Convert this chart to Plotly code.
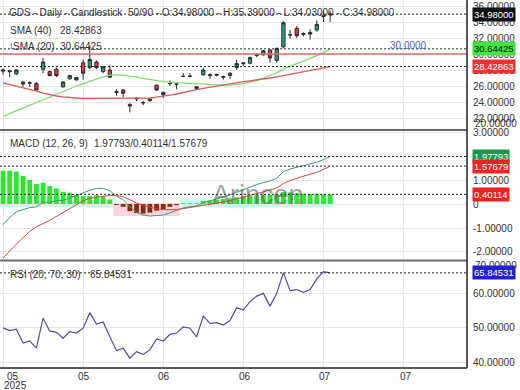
import plotly.graph_objects as go

# ---------------- data ----------------
bars = list(range(50))
opens = [27.85, 27.9, 27.5, 26.5, 26.35, 26.3, 28.1, 27.8, 28.1, 25.9,
         26.9, 26.75, 28.9, 28.3, 29.0, 27.8, 28.0, 25.3, 25.5, 23.5,
         24.5, 23.95, 24.2, 26.1, 24.9, 26.3, 26.25, 27.2, 27.25, 25.9,
         27.4, 27.3, 27.35, 27.1, 27.3, 28.3, 28.9, 28.85, 29.9, 29.9,
         30.5, 29.2, 30.9, 32.4, 33.2, 32.55, 32.7, 33.0, 34.7, 34.98]
highs = [28.2, 28.0, 28.1, 26.6, 26.6, 26.5, 29.5, 27.9, 28.3, 26.6,
         27.4, 27.1, 29.3, 31.1, 29.2, 28.5, 28.6, 25.6, 25.6, 23.9,
         24.55, 24.1, 24.4, 26.2, 25.3, 26.7, 26.3, 27.6, 27.6, 26.0,
         28.3, 27.6, 27.5, 27.3, 27.7, 29.3, 29.0, 29.7, 30.1, 30.5,
         30.6, 30.8, 34.1, 33.0, 33.5, 32.7, 33.1, 34.2, 35.4, 35.39]
lows = [27.4, 27.1, 27.4, 25.9, 25.9, 25.4, 27.6, 27.2, 27.1, 25.8,
        26.8, 26.7, 26.8, 28.1, 28.1, 27.6, 27.0, 24.8, 24.6, 22.7,
        24.1, 23.6, 24.0, 25.4, 24.5, 26.0, 25.6, 27.1, 27.1, 25.6,
        27.3, 26.9, 27.2, 26.8, 26.9, 28.0, 28.5, 28.7, 29.6, 29.8,
        28.9, 28.9, 30.7, 31.9, 32.0, 32.2, 31.8, 32.8, 34.0, 34.03]
closes = [28.0, 27.8, 28.0, 26.25, 26.4, 25.5, 29.0, 27.3, 27.3, 26.5,
          27.3, 27.05, 27.6, 29.3, 28.3, 28.4, 27.1, 25.2, 25.1, 23.65,
          24.4, 23.9, 24.35, 25.5, 25.2, 26.35, 26.25, 27.2, 27.2, 25.7,
          28.0, 27.4, 27.45, 27.15, 27.6, 28.8, 28.8, 29.55, 29.85, 30.4,
          29.5, 30.7, 33.9, 32.4, 32.3, 32.45, 32.5, 33.7, 34.75, 34.98]
sma20 = [22.2, 22.55, 22.9, 23.25, 23.6, 23.95, 24.3, 24.7, 25.0, 25.35,
         25.7, 26.0, 26.3, 26.6, 26.9, 27.15, 27.35, 27.4, 27.35, 27.25,
         27.1, 26.95, 26.8, 26.65, 26.55, 26.45, 26.4, 26.35, 26.3, 26.25,
         26.2, 26.15, 26.1, 26.1, 26.1, 26.2, 26.3, 26.5, 26.7, 27.0,
         27.3, 27.65, 28.1, 28.5, 28.8, 29.1, 29.45, 29.8, 30.15, 30.64425]
sma40 = [26.4, 26.2, 26.0, 25.8, 25.6, 25.35, 25.1, 24.9, 24.75, 24.65,
         24.55, 24.5, 24.45, 24.45, 24.45, 24.5, 24.5, 24.5, 24.5, 24.5,
         24.5, 24.5, 24.5, 24.6, 24.7, 24.85, 25.0, 25.2, 25.4, 25.55,
         25.7, 25.85, 26.0, 26.15, 26.3, 26.45, 26.55, 26.65, 26.75, 26.9,
         27.0, 27.15, 27.3, 27.45, 27.6, 27.75, 27.9, 28.05, 28.25, 28.42863]
macd = [-0.86, -0.56, -0.32, -0.23, -0.15, -0.12, 0.07, 0.07, 0.13, 0.15,
        0.25, 0.33, 0.46, 0.57, 0.65, 0.65, 0.55, 0.32, 0.18, -0.12,
        -0.34, -0.46, -0.50, -0.48, -0.46, -0.37, -0.28, -0.16, -0.12, -0.08,
        0.05, 0.12, 0.20, 0.29, 0.38, 0.49, 0.59, 0.70, 0.81, 0.89,
        0.96, 1.07, 1.35, 1.46, 1.53, 1.59, 1.66, 1.74, 1.85, 1.97793]
signal = [-2.25, -1.95, -1.67, -1.40, -1.15, -0.95, -0.82, -0.68, -0.52, -0.36,
          -0.22, -0.05, 0.13, 0.24, 0.28, 0.32, 0.36, 0.36, 0.30, 0.18,
          0.04, -0.06, -0.14, -0.20, -0.24, -0.25, -0.23, -0.19, -0.15, -0.11,
          -0.07, -0.03, 0.02, 0.08, 0.14, 0.21, 0.28, 0.36, 0.44, 0.51,
          0.58, 0.67, 0.85, 0.98, 1.08, 1.16, 1.24, 1.32, 1.44, 1.57679]
hist = [1.39, 1.39, 1.35, 1.17, 1.00, 0.83, 0.89, 0.75, 0.65, 0.51,
        0.47, 0.38, 0.33, 0.33, 0.37, 0.33, 0.19, -0.04, -0.12, -0.30,
        -0.38, -0.40, -0.36, -0.28, -0.22, -0.12, -0.05, 0.03, 0.03, 0.03,
        0.12, 0.15, 0.18, 0.21, 0.24, 0.28, 0.31, 0.34, 0.37, 0.38,
        0.38, 0.40, 0.50, 0.48, 0.45, 0.43, 0.42, 0.42, 0.41, 0.40114]
rsi = [49.9, 49.1, 49.5, 45.5, 46.1, 44.0, 52.7, 49.0, 48.6, 46.9,
       48.8, 48.4, 49.8, 54.3, 51.0, 51.6, 47.3, 43.3, 44.0, 41.1,
       43.0, 42.2, 43.5, 46.7, 46.1, 48.0, 48.4, 50.2, 49.8, 47.3,
       53.3, 51.2, 51.4, 50.7, 52.0, 55.7, 55.1, 57.5, 59.1, 59.9,
       56.2, 59.9, 65.9, 60.7, 61.0, 60.2, 61.0, 64.1, 66.2, 65.84531]

price_ticks = [22, 24, 26, 28, 30, 32, 34, 36]
macd_ticks = [-2, -1, 0, 1, 2, 3]
rsi_ticks = [40, 50, 60, 70]
x_tickvals = [0, 12, 24, 36, 48, 60]
x_ticktext = ["05", "05", "06", "06", "07", "07"]
year_label = "2025"
level_line = 30.0

# ---------------- geometry helpers ----------------
W, H = 520, 390
PW, PH = 467, 368  # plot area in pixels (left/top = 0)
def px(x):
    return x / PW
def py(y):
    return (PH - y) / PH

FONT = "Liberation Sans, Arial, sans-serif"
GRID = "#e6e6e6"

fig = go.Figure()

# price panel
fig.add_trace(go.Candlestick(
    x=bars, open=opens, high=highs, low=lows, close=closes,
    increasing=dict(line=dict(color="#2a2a2a", width=1), fillcolor="#27a27f"),
    decreasing=dict(line=dict(color="#2a2a2a", width=1), fillcolor="#e23a4e"),
    whiskerwidth=0, xaxis="x", yaxis="y", hoverinfo="skip", showlegend=False))
fig.add_trace(go.Scatter(x=bars, y=sma20, mode="lines", xaxis="x", yaxis="y",
                         line=dict(color="#80dd6c", width=1.3), hoverinfo="skip"))
fig.add_trace(go.Scatter(x=bars, y=sma40, mode="lines", xaxis="x", yaxis="y",
                         line=dict(color="#dc5a5a", width=1.3), hoverinfo="skip"))

# macd panel
bar_colors = ["#30e630" if v >= 0 else "#8c2c0c" for v in hist]
fig.add_trace(go.Bar(x=bars, y=hist, width=0.72, marker=dict(color=bar_colors, line=dict(width=0)),
                     xaxis="x", yaxis="y2", hoverinfo="skip"))
fig.add_trace(go.Scatter(x=bars, y=macd, mode="lines", xaxis="x", yaxis="y2",
                         line=dict(color="#3f9a70", width=1), hoverinfo="skip"))
fig.add_trace(go.Scatter(x=bars, y=signal, mode="lines", xaxis="x", yaxis="y2",
                         line=dict(color="#cc4a44", width=1), hoverinfo="skip"))

# rsi panel
fig.add_trace(go.Scatter(x=bars, y=rsi, mode="lines", xaxis="x", yaxis="y3",
                         line=dict(color="#4e4e9c", width=1.2), hoverinfo="skip"))

def fmt(v):
    return f"{v:.5f}"

yaxis_common = dict(side="right", anchor="x", showgrid=True, gridcolor=GRID, zeroline=False,
                    ticks="", showline=False, automargin=False, ticklabelstandoff=5,
                    tickfont=dict(size=10, color="#333", family=FONT), fixedrange=True)

fig.update_layout(
    width=W, height=H, margin=dict(l=0, r=W - PW, t=0, b=H - PH, autoexpand=False),
    paper_bgcolor="white", plot_bgcolor="white", showlegend=False,
    font=dict(family=FONT, size=10, color="#333"),
    xaxis=dict(domain=[0, 1], range=[-0.45, 69.5], anchor="y3", automargin=False,
               tickvals=x_tickvals, showticklabels=False,
               showgrid=True, gridcolor=GRID, zeroline=False, showline=False, ticks="",
               rangeslider=dict(visible=False), fixedrange=True),
    yaxis=dict(domain=[py(129), 1], range=[20.625, 36.75],
               tickvals=price_ticks, ticktext=[fmt(v) for v in price_ticks], **yaxis_common),
    yaxis2=dict(domain=[py(259), py(131)], range=[-2.292, 3.042],
                tickvals=macd_ticks, ticktext=["0" if v == 0 else fmt(v) for v in macd_ticks],
                **yaxis_common),
    yaxis3=dict(domain=[0, py(262)], range=[38.26, 68.99],
                tickvals=rsi_ticks, ticktext=[fmt(v) for v in rsi_ticks], **yaxis_common),
)

shapes = []
# histogram background bands
shapes.append(dict(type="rect", xref="x", yref="y2", x0=-0.5, x1=16.5, y0=-0.13, y1=0.2,
                   fillcolor="#c2fff4", line=dict(width=0), layer="below"))
shapes.append(dict(type="rect", xref="x", yref="y2", x0=16.5, x1=26.5, y0=-0.5, y1=0.04,
                   fillcolor="#ffd4e2", line=dict(width=0), layer="below"))
shapes.append(dict(type="rect", xref="x", yref="y2", x0=26.5, x1=49.5, y0=-0.13, y1=0.2,
                   fillcolor="#c2fff4", line=dict(width=0), layer="below"))
# horizontal level line
shapes.append(dict(type="line", xref="paper", yref="y", x0=0, x1=1, y0=level_line, y1=level_line,
                   line=dict(color="#e06a6a", width=1.5)))
# dashed value lines
for ax, v in [("y", closes[-1]), ("y", sma20[-1]), ("y", sma40[-1]),
              ("y2", macd[-1]), ("y2", signal[-1]), ("y2", hist[-1]), ("y3", rsi[-1])]:
    shapes.append(dict(type="line", xref="paper", yref=ax, x0=0, x1=1, y0=v, y1=v,
                       line=dict(color="#222", width=1, dash="2px,2px")))
# panel separators and borders
for yy in (130, 260.5):
    shapes.append(dict(type="line", xref="paper", yref="paper", x0=0, x1=1, y0=py(yy), y1=py(yy),
                       line=dict(color="#6a6a6a", width=2)))
shapes.append(dict(type="line", xref="paper", yref="paper", x0=1, x1=1, y0=0, y1=1,
                   line=dict(color="#222", width=1.5)))
shapes.append(dict(type="line", xref="paper", yref="paper", x0=0, x1=1, y0=0, y1=0,
                   line=dict(color="#222", width=1.5)))

ann = []
def txt(text, x, y, size=10, color="#333", xanchor="left"):
    ann.append(dict(text=text, xref="paper", yref="paper", x=px(x), y=py(y), xanchor=xanchor,
                    yanchor="middle", showarrow=False, font=dict(size=size, color=color, family=FONT)))

# legend texts
txt("GDS - Daily - Candlestick \u00a050/90 - O:34.98000 - H:35.39000 - L:34.03000 - C:34.98000", 7, 13)
txt("SMA (40)", 8, 30)
txt(f"{sma40[-1]:.5f}", 58, 30)
txt("!", 8, 46, size=9, color="#4466cc")
txt("SMA (20)", 11, 47)
txt(f"{sma20[-1]:.5f}", 58, 47)
txt("MACD (12, 26, 9)", 8, 143)
txt(f"{macd[-1]:.5f}/{hist[-1]:.5f}/{signal[-1]:.5f}", 92, 143)
txt("RSI (20, 70, 30)", 8, 274)
txt(f"{rsi[-1]:.5f}", 88, 274)
# watermark
txt("Arincen", 258, 195, size=27, color="rgba(95,95,95,0.6)", xanchor="center")
# x labels (first one is pushed right of its gridline, as in the reference)
for k, (tv, tt) in enumerate(zip(x_tickvals, x_ticktext)):
    xpix = 13 if k == 0 else 3 + tv * 6.71
    txt(tt, xpix, 376, xanchor="center")
txt(year_label, 15, 385, xanchor="center")
# clamped axis labels
txt("20.00000", 473, 123)
txt("70.00000", 473, 265)
# level label
ann.append(dict(text="30.0000", xref="x", yref="y", x=60.7, y=level_line + 0.12, xanchor="center",
                yanchor="bottom", showarrow=False, font=dict(size=10, color="#5566bb", family=FONT)))

# coloured value boxes on the right axis
for ax, v, bg, fg in [("y", closes[-1], "#111111", "white"),
                      ("y", sma20[-1], "#3ce63c", "#111111"),
                      ("y", sma40[-1], "#ee3333", "white"),
                      ("y2", macd[-1], "#16994c", "white"),
                      ("y2", signal[-1], "#ee2222", "white"),
                      ("y2", hist[-1], "#ee2222", "white"),
                      ("y3", rsi[-1], "#2020d0", "white")]:
    ann.append(dict(text=f"{v:.5f}", xref="paper", yref=ax, x=1, y=v, xanchor="left", yanchor="middle",
                    xshift=5, showarrow=False, bgcolor=bg, borderpad=1,
                    font=dict(size=9.5, color=fg, family=FONT)))

fig.update_layout(shapes=shapes, annotations=ann)
fig.write_html("out.html", config={"displayModeBar": False, "staticPlot": True},
               post_script="document.body.style.margin='0';document.body.style.overflow='hidden';")
